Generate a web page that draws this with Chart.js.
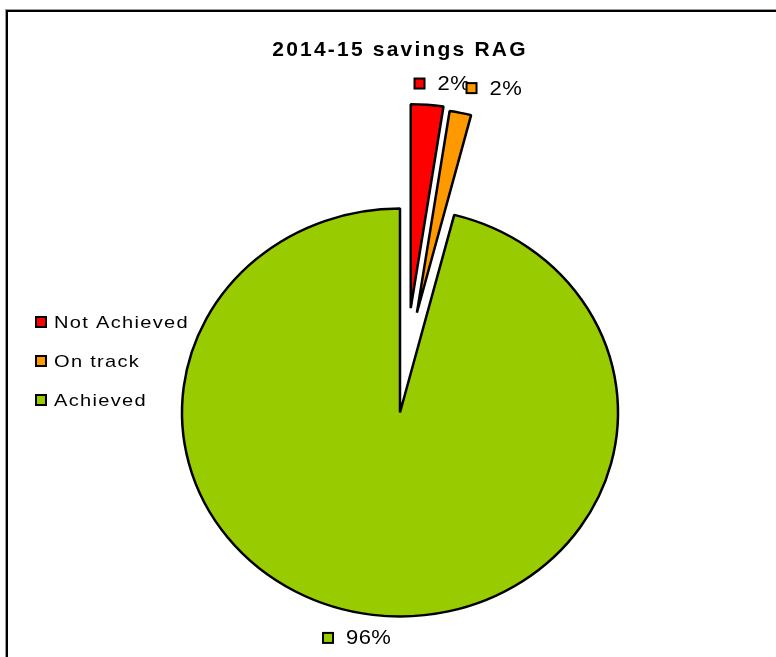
<!DOCTYPE html>
<html>
<head>
<meta charset="utf-8">
<script src="https://cdn.jsdelivr.net/npm/chart.js@4/dist/chart.umd.min.js"></script>
<style>
  html, body { margin: 0; padding: 0; background: #fff; }
  #wrap { position: relative; width: 776px; height: 657px; overflow: hidden; }
  #frame { position: absolute; left: 6px; top: 10px; width: 800px; height: 700px;
           border-left: 2px solid #000; border-top: 2px solid #000; box-shadow: -1px -1px 0 #999; }
  canvas { position: absolute; left: 0; top: 0; }
</style>
</head>
<body>
<div id="wrap">
  <div id="frame"></div>
  <canvas id="c" width="776" height="657"></canvas>
</div>
<script>
// ---- data ----
const TITLE = '2014-15 savings RAG';
const CATEGORIES = ['Not Achieved', 'On track', 'Achieved'];
const VALUES = [2.4, 1.6, 96.0];
const COLORS = ['#FF0000', '#FF9900', '#99CC00'];

// ---- style ----
const FONT = '"Liberation Sans", Arial, sans-serif';
const Y_SCALE = 204 / 218;          // pie is drawn slightly squashed (ellipse)
const EXPLODE_DIST = [112, 108, 0]; // px
const EXPLODE_DIR = [5.5, 9, 0];    // degrees clockwise from 12 o'clock
const LABEL_R = 240;
const LABEL_NUDGE = [[-9.3, -0.7], [6.7, -4.5], [-41.9, 2.6]];
const LEGEND_STRETCH = 1.18;
const LABEL_STRETCH = 1.1;

function center(chart) {
  const a = chart.chartArea;
  return { cx: (a.left + a.right) / 2, cy: (a.top + a.bottom) / 2 };
}

const piePlugin = {
  id: 'piePlugin',
  afterDatasetsUpdate(chart) {
    const meta = chart.getDatasetMeta(0);
    meta.data.forEach((arc, i) => {
      const d = EXPLODE_DIST[i] || 0;
      if (!d) return;
      const t = EXPLODE_DIR[i] * Math.PI / 180;
      arc.x += d * Math.sin(t);
      arc.y -= d * Math.cos(t);
    });
  },
  beforeDraw(chart) {
    chart.ctx.letterSpacing = '2.2px';
  },
  beforeDatasetsDraw(chart) {
    const ctx = chart.ctx;
    const { cx, cy } = center(chart);
    ctx.save();
    ctx.translate(cx, cy);
    ctx.scale(1, Y_SCALE);
    ctx.translate(-cx, -cy);
  },
  afterDatasetsDraw(chart) {
    chart.ctx.restore();
  },
  afterDraw(chart) {
    const ctx = chart.ctx;
    const { cy } = center(chart);
    const meta = chart.getDatasetMeta(0);
    const total = VALUES.reduce((s, v) => s + v, 0);

    function swatch(x, y, color) {
      ctx.fillStyle = color;
      ctx.fillRect(x - 5, y - 5, 10, 10);
      ctx.lineWidth = 2;
      ctx.strokeStyle = '#000';
      ctx.strokeRect(x - 5, y - 5, 10, 10);
    }
    function stretchedText(str, x, y, k) {
      ctx.save();
      ctx.translate(x, y);
      ctx.scale(k, 1);
      ctx.fillStyle = '#000';
      ctx.fillText(str, 0, 0);
      ctx.restore();
    }

    ctx.save();
    ctx.textBaseline = 'middle';
    ctx.textAlign = 'left';
    // data labels
    ctx.font = '20px ' + FONT;
    ctx.letterSpacing = '0.4px';
    meta.data.forEach((arc, i) => {
      const mid = (arc.startAngle + arc.endAngle) / 2;
      const ux = arc.x + LABEL_R * Math.cos(mid);
      const uy = arc.y + LABEL_R * Math.sin(mid);
      const x = ux + LABEL_NUDGE[i][0];
      const y = cy + (uy - cy) * Y_SCALE + LABEL_NUDGE[i][1];
      swatch(x, y, COLORS[i]);
      stretchedText(Math.round(VALUES[i] / total * 100) + '%', x + 18, y + 1, LABEL_STRETCH);
    });

    // legend
    ctx.font = '17px ' + FONT;
    ctx.letterSpacing = '1.1px';
    CATEGORIES.forEach((name, i) => {
      const y = 322 + i * 39;
      swatch(41, y, COLORS[i]);
      stretchedText(name, 54, y + 1, LEGEND_STRETCH);
    });
    ctx.restore();
  }
};

new Chart(document.getElementById('c'), {
  type: 'pie',
  data: {
    labels: CATEGORIES,
    datasets: [{
      data: VALUES,
      backgroundColor: COLORS,
      borderColor: '#000',
      borderWidth: 2.5,
      clip: false
    }]
  },
  options: {
    responsive: false,
    devicePixelRatio: 1,
    animation: false,
    events: [],
    radius: 218,
    layout: { padding: { left: 24, right: 0, top: 0, bottom: 0 } },
    plugins: {
      legend: { display: false },
      tooltip: { enabled: false },
      title: {
        display: true,
        text: TITLE,
        color: '#000',
        font: { family: FONT, size: 21, weight: 'bold', lineHeight: 1.2 },
        padding: { top: 37.4, bottom: 105.4 }
      }
    }
  },
  plugins: [piePlugin]
});
</script>
</body>
</html>
